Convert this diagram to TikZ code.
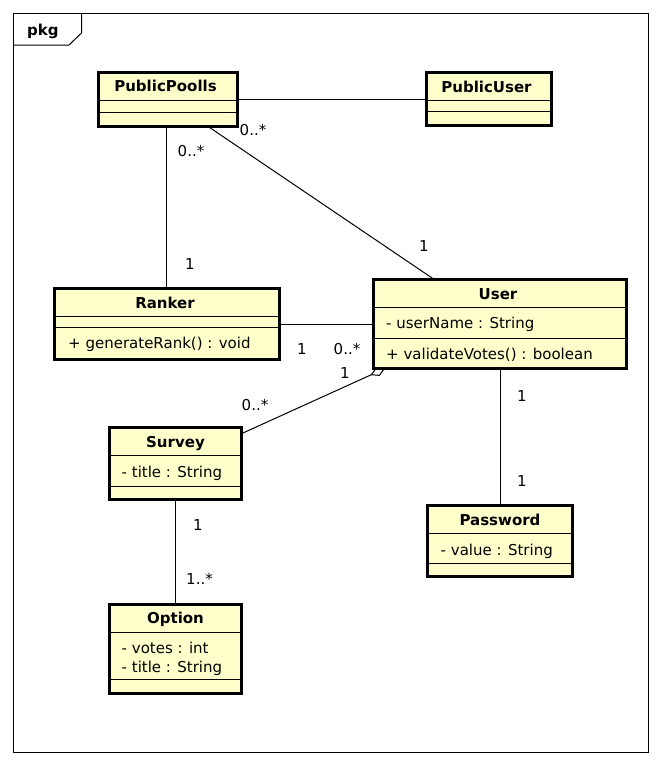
\documentclass[tikz,border=0pt]{standalone}
\usepackage{fontspec}
\setmainfont{DejaVu Sans}
\usetikzlibrary{arrows.meta}

\begin{document}
\begin{tikzpicture}[x=1pt,y=1pt,yscale=-1,xscale=1,
	font=\fontsize{15}{19}\selectfont,
	cls/.style={draw, line width=3pt, fill={rgb,255:red,255;green,255;blue,204}, inner sep=0pt, outer sep=0pt},
	sep/.style={line width=1pt},
	ttl/.style={font=\fontsize{15}{19}\selectfont\bfseries, anchor=base, inner sep=0pt},
	mem/.style={anchor=base west, inner sep=0pt, align=left},
	mult/.style={inner sep=0pt},
	assoc/.style={line width=1pt},
	aggr/.style={line width=1pt, -{Diamond[open, length=16pt, width=9pt, line width=1pt]}}]
	\useasboundingbox (0,0) rectangle (661,766);
	\draw [line width=1pt] (13.5,13.5) rectangle (648,752.5);
	\draw [line width=1pt] (13.5,45) -- (69,45) -- (81.5,33) -- (81.5,13.5);
	\node [mem, font=\fontsize{15}{19}\selectfont\bfseries] (pkg) at (27,35) {pkg};

	\node [cls, minimum width=139pt, minimum height=54pt] (pp) at (167.5,99) {};
	\node [cls, minimum width=125pt, minimum height=53pt] (pu) at (488.5,99) {};
	\node [cls, minimum width=225pt, minimum height=71pt] (ranker) at (166.5,324) {};
	\node [cls, minimum width=253pt, minimum height=89pt] (user) at (500,324) {};
	\node [cls, minimum width=132pt, minimum height=72pt] (survey) at (175.5,463.5) {};
	\node [cls, minimum width=132pt, minimum height=89pt] (option) at (175.5,649) {};
	\node [cls, minimum width=145pt, minimum height=71pt] (password) at (500,541) {};

	\draw [sep] (pp.west |- 0,100) -- (pp.east |- 0,100) (pp.west |- 0,112) -- (pp.east |- 0,112);
	\draw [sep] (pu.west |- 0,100.5) -- (pu.east |- 0,100.5) (pu.west |- 0,111.5) -- (pu.east |- 0,111.5);
	\draw [sep] (ranker.west |- 0,316) -- (ranker.east |- 0,316) (ranker.west |- 0,327) -- (ranker.east |- 0,327);
	\draw [sep] (user.west |- 0,307) -- (user.east |- 0,307) (user.west |- 0,338) -- (user.east |- 0,338);
	\draw [sep] (survey.west |- 0,455) -- (survey.east |- 0,455) (survey.west |- 0,486) -- (survey.east |- 0,486);
	\draw [sep] (option.west |- 0,632) -- (option.east |- 0,632) (option.west |- 0,679) -- (option.east |- 0,679);
	\draw [sep] (password.west |- 0,533) -- (password.east |- 0,533) (password.west |- 0,563) -- (password.east |- 0,563);

	\node [ttl] (ppTitle) at (165.5,91.5) {PublicPoolls};
	\node [ttl] (puTitle) at (486.5,92.5) {PublicUser};
	\node [ttl] (rankerTitle) at (165,308) {Ranker};
	\node [mem] (rankerOps) at (68,348.5) {+ generateRank() : void};
	\node [ttl] (userTitle) at (498,299.5) {User};
	\node [mem] (userAttr) at (386,328.5) {- userName : String};
	\node [mem] (userOps) at (386,359) {+ validateVotes() : boolean};
	\node [ttl] (surveyTitle) at (175.5,447.5) {Survey};
	\node [mem] (surveyAttr) at (121.5,477.5) {- title : String};
	\node [ttl] (optionTitle) at (175.5,623.5) {Option};
	\node [mem] (optionAttr) at (121.5,672.5) {- votes : int\\- title : String};
	\node [ttl] (passwordTitle) at (500,525) {Password};
	\node [mem] (passwordAttr) at (440.5,555) {- value : String};

	\draw [assoc] (pp) -- (pu);
	\draw [assoc] (pp.south -| ranker.north) -- (ranker.north);
	\draw [assoc] (pp) -- (user);
	\draw [assoc] (ranker) -- (user);
	\draw [aggr] (survey) -- (385,368.5);
	\draw [assoc] (user) -- (password);
	\draw [assoc] (survey) -- (option);

	\node [mult] (ppRankerA) at (191,151) {0..*};
	\node [mult] (ppRankerB) at (190,264) {1};
	\node [mult] (ppUserA) at (253,130) {0..*};
	\node [mult] (ppUserB) at (424,246) {1};
	\node [mult] (rankerUserA) at (302,349) {1};
	\node [mult] (rankerUserB) at (347,349) {0..*};
	\node [mult] (surveyUserA) at (255,405) {0..*};
	\node [mult] (surveyUserB) at (345,373) {1};
	\node [mult] (userPasswordA) at (522,396) {1};
	\node [mult] (userPasswordB) at (522,481) {1};
	\node [mult] (surveyOptionA) at (198,525) {1};
	\node [mult] (surveyOptionB) at (199.5,579) {1..*};
\end{tikzpicture}
\end{document}
